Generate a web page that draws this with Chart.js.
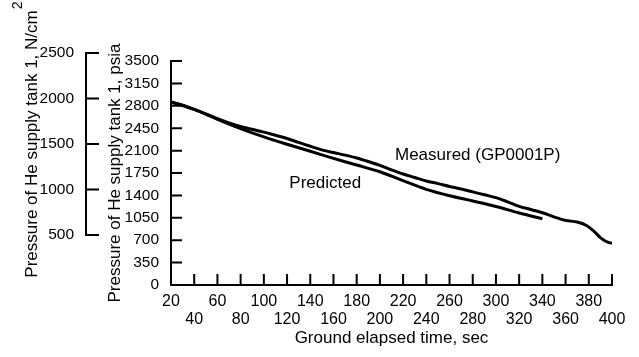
<!DOCTYPE html>
<html lang="en">
<head>
  <meta charset="UTF-8" />
  <title>He supply tank 1 pressure</title>
  <script src="https://cdn.jsdelivr.net/npm/chart.js"></script>
  <style>
    html, body {
      margin: 0;
      padding: 0;
      background: #fff;
    }
    .chart-container {
      width: 639px;
      height: 357px;
    }
  </style>
</head>
<body>

  <div class="chart-container">
    <canvas id="tankChart" width="639" height="357"></canvas>
  </div>

  <script>
    // Measured (GP0001P) pressure, psia vs ground elapsed time, sec
    const measuredTime = [20, 30, 40, 50, 60, 70, 80, 90, 100, 110, 120, 130, 140, 150, 160, 170, 180, 190, 200,
                          210, 220, 230, 240, 250, 260, 270, 280, 290, 300, 310, 320, 330, 340, 350, 360,
                          370, 378, 385, 390, 395, 400];
    const measuredPsia = [2860, 2810, 2745, 2675, 2600, 2535, 2478, 2433, 2390, 2340, 2290, 2228, 2168, 2112, 2070, 2030, 1985, 1930, 1870,
                          1800, 1735, 1680, 1625, 1585, 1540, 1500, 1455, 1410, 1365, 1300, 1230, 1180, 1130, 1065, 1010,
                          985, 930, 830, 740, 680, 650];

    // Predicted pressure, psia
    const predictedTime = [20, 40, 60, 80, 100, 120, 140, 160, 180, 200, 220, 240, 260, 280, 300, 320, 340];
    const predictedPsia = [2860, 2745, 2590, 2445, 2315, 2200, 2090, 1980, 1875, 1770, 1630, 1495, 1395, 1313, 1228, 1125, 1035];

    // Tick values for the three axes
    const timeTicks = [20, 40, 60, 80, 100, 120, 140, 160, 180, 200, 220, 240, 260, 280, 300, 320, 340, 360, 380, 400];
    const psiaTicks = [0, 350, 700, 1050, 1400, 1750, 2100, 2450, 2800, 3150, 3500];
    const ncmTicks = [500, 1000, 1500, 2000, 2500];

    // In-plot curve labels: [text, time, psia]
    const curveLabels = [
      ['Measured (GP0001P)', 213, 2030],
      ['Predicted', 122, 1594]
    ];

    const FONT = "'Liberation Sans', Arial, sans-serif";
    const INK = '#000';

    const toPoints = (xs, ys) => xs.map((x, i) => ({ x: x, y: ys[i] }));

    // hand-drawn style axes: bare lines with inward ticks, plus the axis titles
    const axesPlugin = {
      id: 'plotFrame',
      afterDraw(chart) {
        const c = chart.ctx;
        const xs = chart.scales.x;
        const ys = chart.scales.y;
        const ns = chart.scales.yN;
        const left = xs.getPixelForValue(timeTicks[0]);
        const right = xs.getPixelForValue(timeTicks[timeTicks.length - 1]);
        const base = ys.getPixelForValue(0);

        c.save();
        c.strokeStyle = INK;
        c.lineWidth = 2;
        c.lineCap = 'square';

        // psia axis
        c.beginPath();
        c.moveTo(left, base);
        c.lineTo(left, ys.getPixelForValue(psiaTicks[psiaTicks.length - 1]));
        psiaTicks.forEach(v => {
          const py = ys.getPixelForValue(v);
          c.moveTo(left, py);
          c.lineTo(left + 10, py);
        });
        // time axis
        c.moveTo(left, base);
        c.lineTo(right, base);
        timeTicks.forEach(v => {
          const px = xs.getPixelForValue(v);
          c.moveTo(px, base);
          c.lineTo(px, base - 10);
        });
        c.stroke();

        // N/cm^2 axis
        const nx = ns.right;
        c.beginPath();
        c.moveTo(nx, ns.getPixelForValue(ncmTicks[0]));
        c.lineTo(nx, ns.getPixelForValue(ncmTicks[ncmTicks.length - 1]));
        ncmTicks.forEach(v => {
          const py = ns.getPixelForValue(v);
          c.moveTo(nx, py);
          c.lineTo(nx + 12, py);
        });
        c.stroke();

        c.fillStyle = INK;
        c.textAlign = 'center';
        c.textBaseline = 'middle';

        // psia title, centred on its axis
        const psiaMid = (base + ys.getPixelForValue(3500)) / 2;
        c.save();
        c.translate(115, psiaMid);
        c.rotate(-Math.PI / 2);
        c.font = '17px ' + FONT;
        c.fillText('Pressure of He supply tank 1, psia', 0, 0);
        c.restore();

        // N/cm^2 title with a raised "2"
        const nMid = (ns.getPixelForValue(500) + ns.getPixelForValue(2500)) / 2;
        c.save();
        c.translate(32, nMid);
        c.rotate(-Math.PI / 2);
        c.font = '17px ' + FONT;
        const main = 'Pressure of He supply tank 1, N/cm';
        const w = c.measureText(main).width;
        c.fillText(main, 0, 0);
        c.textAlign = 'left';
        c.font = '14px ' + FONT;
        c.fillText('2', w / 2 + 1, -14);
        c.restore();

        // curve labels
        c.font = '17px ' + FONT;
        c.textAlign = 'left';
        curveLabels.forEach(([text, t, p]) => {
          c.fillText(text, xs.getPixelForValue(t), ys.getPixelForValue(p));
        });
        c.restore();
      }
    };

    const lineStyle = {
      borderColor: INK,
      borderWidth: 3,
      pointRadius: 0,
      fill: false,
      tension: 0.3,
      yAxisID: 'y'
    };

    const plainTick = v => String(v);

    new Chart(document.getElementById('tankChart'), {
      type: 'line',
      data: {
        datasets: [
          Object.assign({ label: 'Measured (GP0001P)', data: toPoints(measuredTime, measuredPsia) }, lineStyle),
          Object.assign({ label: 'Predicted', data: toPoints(predictedTime, predictedPsia) }, lineStyle)
        ]
      },
      options: {
        responsive: false,
        devicePixelRatio: 1,
        animation: false,
        layout: { padding: { top: 53, right: 27, left: 0, bottom: 0 } },
        plugins: {
          legend: { display: false },
          tooltip: { enabled: false }
        },
        scales: {
          x: {
            type: 'linear',
            position: 'bottom',
            min: 20,
            max: 400,
            grid: { display: false },
            border: { display: false },
            afterBuildTicks: s => { s.ticks = timeTicks.map(v => ({ value: v })); },
            afterFit: s => { s.height = 72; },
            ticks: {
              autoSkip: false,
              maxRotation: 0,
              padding: 0,
              color: INK,
              font: { family: FONT, size: 16, lineHeight: 1.1 },
              // staggered labels: odd ones on the first row, even ones on the second
              callback: (v, i) => (i % 2 === 0 ? [String(v), ''] : ['', String(v)])
            },
            title: {
              display: true,
              text: 'Ground elapsed time, sec',
              color: INK,
              font: { family: FONT, size: 17 },
              padding: { top: 0, bottom: 8 }
            }
          },
          y: {
            position: 'left',
            weight: 0,
            min: 0,
            max: 3626,
            grid: { display: false },
            border: { display: false },
            afterBuildTicks: s => { s.ticks = psiaTicks.map(v => ({ value: v })); },
            afterFit: s => { s.width = 85; },
            ticks: {
              padding: 4,
              color: INK,
              font: { family: FONT, size: 15.5 },
              callback: plainTick
            }
          },
          yN: {
            position: 'left',
            weight: 1,
            min: -50,
            max: 2500,
            grid: { display: false },
            border: { display: false },
            afterBuildTicks: s => { s.ticks = ncmTicks.map(v => ({ value: v })); },
            afterFit: s => { s.width = 86; },
            ticks: {
              padding: 4,
              color: INK,
              font: { family: FONT, size: 15.5 },
              callback: plainTick
            }
          }
        }
      },
      plugins: [axesPlugin]
    });
  </script>

</body>
</html>
